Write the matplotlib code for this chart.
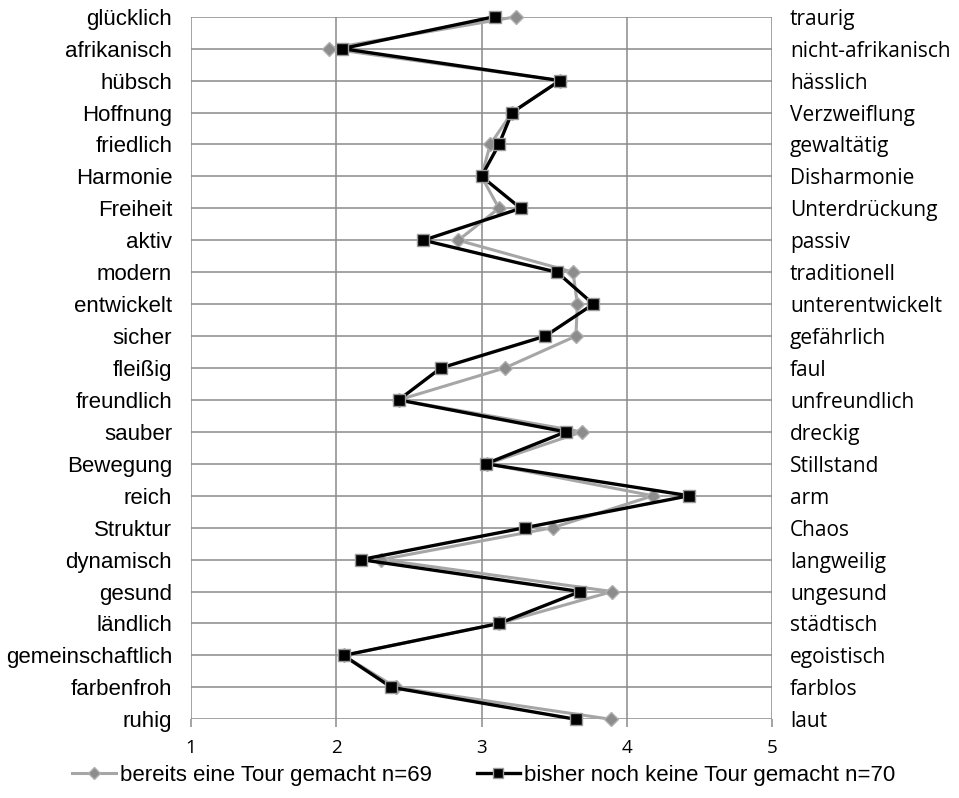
import matplotlib
matplotlib.use("Agg")
import matplotlib.pyplot as plt
from matplotlib.lines import Line2D
from matplotlib import font_manager

left_labels = ["glücklich", "afrikanisch", "hübsch", "Hoffnung", "friedlich", "Harmonie",
               "Freiheit", "aktiv", "modern", "entwickelt", "sicher", "fleißig",
               "freundlich", "sauber", "Bewegung", "reich", "Struktur", "dynamisch",
               "gesund", "ländlich", "gemeinschaftlich", "farbenfroh", "ruhig"]
right_labels = ["traurig", "nicht-afrikanisch", "hässlich", "Verzweiflung", "gewaltätig",
                "Disharmonie", "Unterdrückung", "passiv", "traditionell", "unterentwickelt",
                "gefährlich", "faul", "unfreundlich", "dreckig", "Stillstand", "arm",
                "Chaos", "langweilig", "ungesund", "städtisch", "egoistisch", "farblos", "laut"]

tour_yes = [3.24, 1.95, 3.54, 3.21, 3.06, 3.00, 3.12, 2.84, 3.63, 3.66, 3.65, 3.16,
            2.43, 3.69, 3.04, 4.18, 3.49, 2.31, 3.90, 3.12, 2.05, 2.41, 3.89]
tour_no = [3.09, 2.04, 3.54, 3.21, 3.12, 3.00, 3.27, 2.60, 3.52, 3.77, 3.44, 2.72,
           2.43, 3.58, 3.03, 4.43, 3.30, 2.17, 3.68, 3.12, 2.05, 2.38, 3.65]

series_names = ["bereits eine Tour gemacht n=69", "bisher noch keine Tour gemacht n=70"]
x_ticks = [1, 2, 3, 4, 5]

installed = {f.name for f in font_manager.fontManager.ttflist}
left_font = "Liberation Sans"
right_font = "Open Sans" if "Open Sans" in installed else "DejaVu Sans"
legend_font = "Liberation Sans"

W, H = 959, 798
fig = plt.figure(figsize=(W / 100, H / 100), dpi=100)
x0, x1 = 191, 772
y0, y1 = 16.7, 719.3
ax = fig.add_axes([x0 / W, 1 - y1 / H, (x1 - x0) / W, (y1 - y0) / H])

rows = list(range(len(left_labels)))
ax.set_xlim(1, 5)
ax.set_ylim(len(rows) - 1, 0)

grid_c = "#8a8a8a"
for r in rows:
    ax.axhline(r, color=grid_c, lw=1.1, zorder=1)
for xv in x_ticks:
    ax.axvline(xv, color=grid_c, lw=1.1, zorder=1)
for s in ax.spines.values():
    s.set_visible(False)

yes_style = dict(color="#a6a6a6", lw=2.2, marker="D", ms=7, mfc="#8c8c8c", mec="#b0b0b0", mew=1.0)
no_style = dict(color="#000000", lw=2.4, marker="s", ms=8.5, mfc="#000000", mec="#9a9a9a", mew=1.0)

ax.plot(tour_yes, rows, zorder=3, clip_on=False, **yes_style)
ax.plot(tour_no, rows, zorder=4, clip_on=False, **no_style)

ax.set_yticks(rows)
ax.set_yticklabels(left_labels, fontsize=16, family=left_font)
ax.tick_params(axis="y", length=0, pad=13.5)

ax2 = ax.twinx()
ax2.set_ylim(ax.get_ylim())
ax2.set_yticks(rows)
ax2.set_yticklabels(right_labels, fontsize=15, family=right_font)
ax2.tick_params(axis="y", length=0, pad=13)
for s in ax2.spines.values():
    s.set_visible(False)

ax.set_xticks(x_ticks)
ax.set_xticklabels([str(v) for v in x_ticks], fontsize=13.5, family=right_font)
ax.tick_params(axis="x", length=6, width=1.1, color=grid_c, pad=8)

legend_yes = dict(yes_style, ms=6)
legend_no = dict(no_style, ms=7.5)
handles = [Line2D([], [], **legend_yes), Line2D([], [], **legend_no)]
fig.legend(handles, series_names, loc="center", bbox_to_anchor=(484 / W, 1 - 775 / H),
           ncol=2, frameon=False, prop={"family": legend_font, "size": 16},
           handlelength=1.95, handletextpad=0.2, columnspacing=2.0)

fig.savefig("out.png", dpi=100)
